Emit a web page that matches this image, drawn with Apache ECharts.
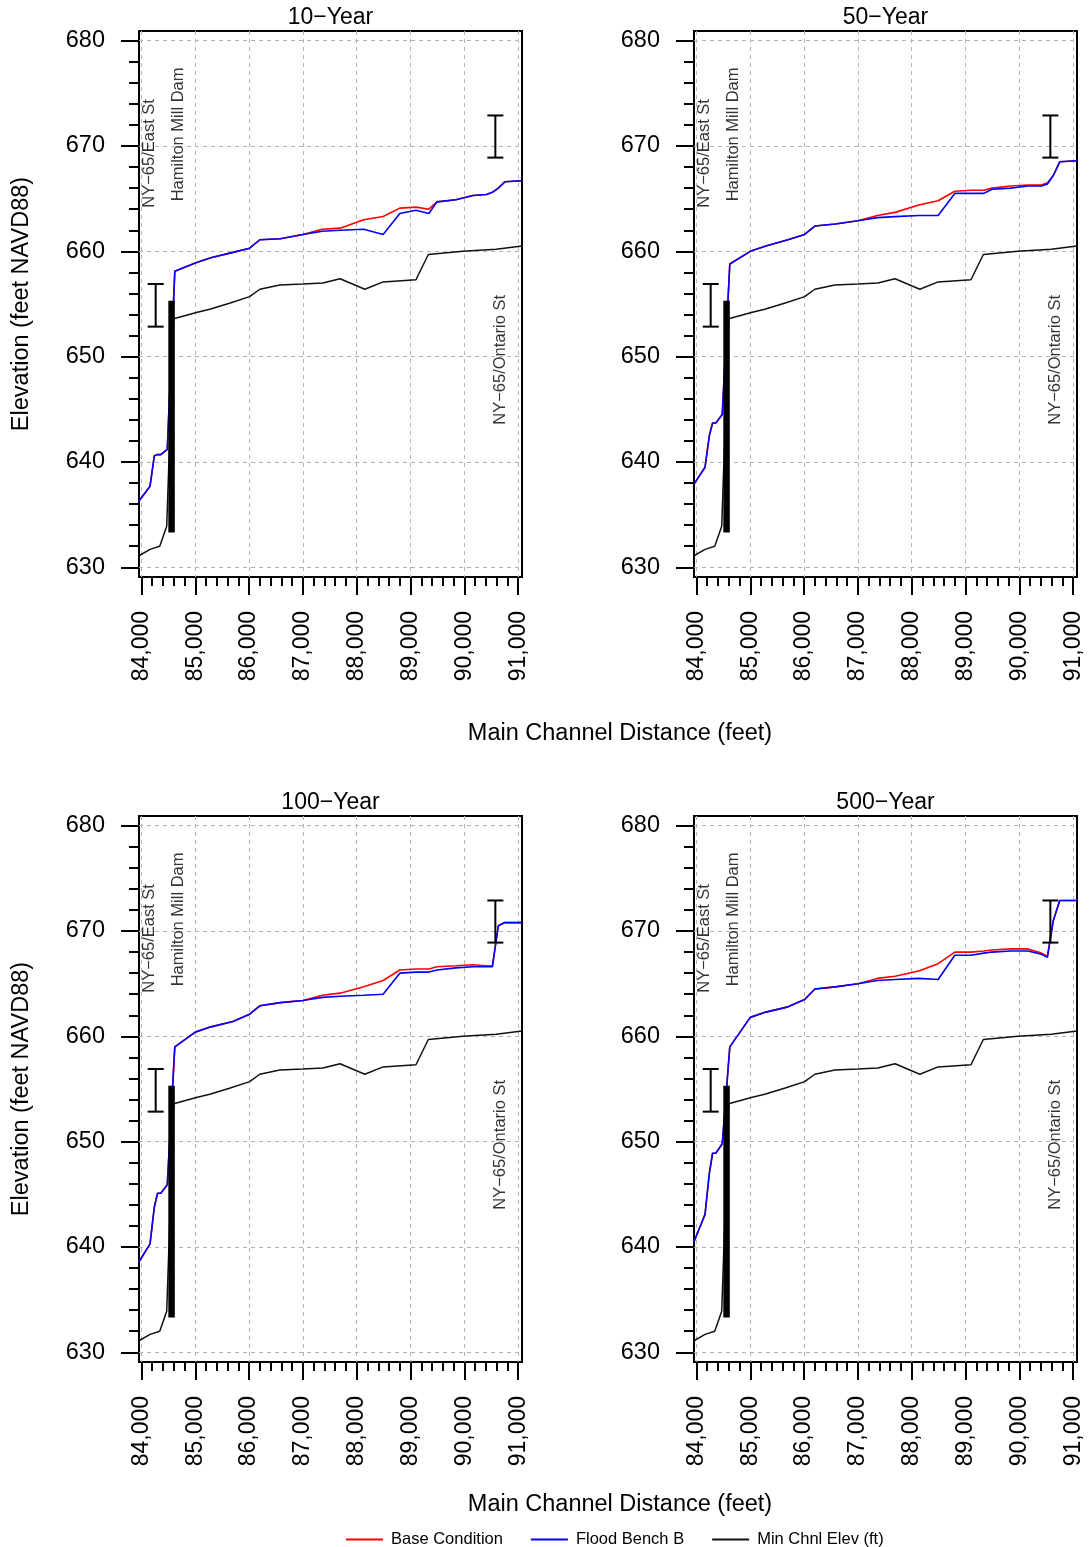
<!DOCTYPE html>
<html style="height: 100%">

<head>
    <meta charset="utf-8">
</head>

<body style="height: 100%; margin: 0; background: #fff">
    <div id="container" style="width: 1089px; height: 1547px"></div>
    <script type="text/javascript" src="https://cdn.jsdelivr.net/npm/echarts@6/dist/echarts.min.js"></script>
    <script type="text/javascript">
        // stations (main channel distance, ft) shared by the water surface profiles
        var stations = [83955, 84160, 84240, 84300, 84360, 84480, 84620, 85000, 85290, 85700,
            86010, 86200, 86580, 87000, 87360, 87690, 88130, 88490, 88800, 89100,
            89340, 89490, 89840, 90160, 90410, 90520, 90630, 90750, 91070];

        var base10 = [636.3, 637.7, 640.6, 640.7, 640.7, 641.2, 658.1, 658.9, 659.4, 659.9,
            660.3, 661.1, 661.2, 661.6, 662.1, 662.2, 663.0, 663.3, 664.1, 664.2,
            664.0, 664.7, 664.9, 665.3, 665.4, 665.6, 666.0, 666.6, 666.7];
        var bench10 = [636.3, 637.7, 640.6, 640.7, 640.7, 641.2, 658.1, 658.9, 659.4, 659.9,
            660.3, 661.1, 661.2, 661.6, 661.9, 662.0, 662.1, 661.6, 663.6, 663.9,
            663.6, 664.7, 664.9, 665.3, 665.4, 665.6, 666.0, 666.6, 666.7];

        var base50 = [637.9, 639.5, 642.5, 643.7, 643.7, 644.5, 658.8, 660.0, 660.5, 661.1,
            661.6, 662.4, 662.6, 662.9, 663.4, 663.7, 664.4, 664.8, 665.7, 665.8,
            665.8, 666.0, 666.2, 666.3, 666.3, 666.5, 667.2, 668.5, 668.6];
        var bench50 = [637.9, 639.5, 642.5, 643.7, 643.7, 644.5, 658.8, 660.0, 660.5, 661.1,
            661.6, 662.4, 662.6, 662.9, 663.2, 663.3, 663.4, 663.4, 665.5, 665.5,
            665.5, 665.9, 666.0, 666.2, 666.2, 666.4, 667.2, 668.5, 668.6];

        var base100 = [638.6, 640.3, 643.8, 645.1, 645.1, 645.9, 659.0, 660.4, 660.9, 661.4,
            662.1, 662.9, 663.2, 663.4, 663.9, 664.1, 664.7, 665.3, 666.3, 666.4,
            666.4, 666.6, 666.7, 666.8, 666.7, 666.7, 670.5, 670.8, 670.8];
        var bench100 = [638.6, 640.3, 643.8, 645.1, 645.1, 645.9, 659.0, 660.4, 660.9, 661.4,
            662.1, 662.9, 663.2, 663.4, 663.7, 663.8, 663.9, 664.0, 666.0, 666.1,
            666.1, 666.3, 666.5, 666.6, 666.6, 666.6, 670.5, 670.8, 670.8];

        var base500 = [640.5, 643.1, 647.0, 648.9, 648.9, 649.8, 659.0, 661.8, 662.3, 662.8,
            663.5, 664.5, 664.7, 665.0, 665.5, 665.7, 666.2, 666.9, 668.0, 668.0,
            668.1, 668.2, 668.3, 668.3, 667.9, 667.6, 671.0, 672.9, 672.9];
        var bench500 = [640.5, 643.1, 647.0, 648.9, 648.9, 649.8, 659.0, 661.8, 662.3, 662.8,
            663.5, 664.5, 664.7, 665.0, 665.3, 665.4, 665.5, 665.4, 667.7, 667.7,
            667.9, 668.0, 668.1, 668.1, 667.8, 667.5, 671.0, 672.9, 672.9];

        // minimum channel elevation
        var bedX = [83955, 84160, 84340, 84470, 84600, 85020, 85270, 85650, 86010, 86200,
            86570, 87000, 87370, 87690, 88150, 88490, 89100, 89330, 89970, 90590, 91070];
        var bedY = [631.1, 631.7, 632.0, 633.9, 653.6, 654.2, 654.5, 655.1, 655.7, 656.4,
            656.8, 656.9, 657.0, 657.4, 656.4, 657.1, 657.3, 659.7, 660.0, 660.2, 660.5];

        // dam and bridges
        var damX = 84560;
        var damY = [633.3, 655.3];
        var bridgeX = [84265, 90575];
        var bridgeLow = [652.85, 668.9];
        var bridgeHigh = [656.9, 672.9];

        var labelText = ['NY\u221265/East St', 'Hamilton Mill Dam', 'NY\u221265/Ontario St'];
        var labelX = [84152, 84680, 90666];
        var labelY = [669.3, 671.1, 649.7];

        var panelTitles = ['10\u2212Year', '50\u2212Year', '100\u2212Year', '500\u2212Year'];
        var panelBase = [base10, base50, base100, base500];
        var panelBench = [bench10, bench50, bench100, bench500];

        var xTicks = [84000, 85000, 86000, 87000, 88000, 89000, 90000, 91000];
        var yTicks = [630, 640, 650, 660, 670, 680];

        var dom = document.getElementById("container");
        var myChart = echarts.init(dom);
        var FONT = '"Liberation Sans", Arial, sans-serif';

        function comma(v) {
            return String(v).replace(/\B(?=(\d{3})+(?!\d))/g, ',');
        }
        function steps(a, b, s) {
            var r = [];
            for (var v = a; v <= b + 1e-9; v += s) r.push(v);
            return r;
        }
        var xMinor = steps(84000, 91000, 200);
        var yMinor = steps(630, 680, 2);

        var layout = [[139, 31], [694, 31], [139, 816], [694, 816]];
        var W = 383, H = 546;
        var xMin = 83955, xMax = 91070, yMin = 629.08, yMax = 680.92;

        var grids = [], xAxes = [], yAxes = [], series = [], graphics = [];

        panelTitles.forEach(function (title, i) {
            var left = layout[i][0], top = layout[i][1];
            grids.push({
                left: left, top: top, width: W, height: H,
                show: true, borderColor: '#000', borderWidth: 2,
                backgroundColor: 'transparent', outerBoundsMode: 'none'
            });
            // major x axis
            xAxes.push({
                type: 'value', gridIndex: i, position: 'bottom', min: xMin, max: xMax,
                axisLine: { show: false, onZero: false },
                axisTick: { show: true, length: 18, customValues: xTicks, lineStyle: { color: '#000', width: 2 } },
                axisLabel: {
                    customValues: xTicks, rotate: 90, margin: 34, formatter: comma,
                    fontSize: 23, color: '#000', fontFamily: FONT
                },
                splitLine: { show: true, lineStyle: { type: [4, 4], color: '#b4b4b4', width: 1 } }
            });
            // minor x ticks
            xAxes.push({
                type: 'value', gridIndex: i, position: 'bottom', min: xMin, max: xMax,
                axisLine: { show: false, onZero: false },
                axisTick: { show: true, length: 9, customValues: xMinor, lineStyle: { color: '#000', width: 2 } },
                axisLabel: { show: false },
                splitLine: { show: false }
            });
            yAxes.push({
                type: 'value', gridIndex: i, position: 'left', min: yMin, max: yMax,
                axisLine: { show: false, onZero: false },
                axisTick: { show: true, length: 18, customValues: yTicks, lineStyle: { color: '#000', width: 2 } },
                axisLabel: {
                    customValues: yTicks, margin: 34,
                    fontSize: 23.5, color: '#000', fontFamily: FONT
                },
                splitLine: { show: true, lineStyle: { type: [4, 4], color: '#b4b4b4', width: 1 } }
            });
            yAxes.push({
                type: 'value', gridIndex: i, position: 'left', min: yMin, max: yMax,
                axisLine: { show: false, onZero: false },
                axisTick: { show: true, length: 10, customValues: yMinor, lineStyle: { color: '#000', width: 2 } },
                axisLabel: { show: false },
                splitLine: { show: false }
            });

            var xi = 2 * i, yi = 2 * i;
            series.push({
                name: 'Base Condition', type: 'line', xAxisIndex: xi, yAxisIndex: yi,
                symbol: 'none', z: 2, lineStyle: { color: '#ff0000', width: 1.6 },
                itemStyle: { color: '#ff0000' },
                data: stations.map(function (x, k) { return [x, panelBase[i][k]]; })
            });
            series.push({
                name: 'Flood Bench B', type: 'line', xAxisIndex: xi, yAxisIndex: yi,
                symbol: 'none', z: 3, lineStyle: { color: '#0000ff', width: 1.6 },
                itemStyle: { color: '#0000ff' },
                data: stations.map(function (x, k) { return [x, panelBench[i][k]]; })
            });
            series.push({
                name: 'Min Chnl Elev (ft)', type: 'line', xAxisIndex: xi, yAxisIndex: yi,
                symbol: 'none', z: 3, lineStyle: { color: '#111', width: 1.5 },
                itemStyle: { color: '#111' },
                data: bedX.map(function (x, k) { return [x, bedY[k]]; })
            });
            series.push({
                name: 'dam', type: 'line', xAxisIndex: xi, yAxisIndex: yi, silent: true,
                symbol: 'none', z: 4, lineStyle: { color: '#000', width: 6.5, cap: 'butt' },
                data: damY.map(function (y) { return [damX, y]; })
            });
            series.push({
                name: 'bridge', type: 'custom', xAxisIndex: xi, yAxisIndex: yi, silent: true, z: 4,
                encode: { x: 0, y: [1, 2] },
                renderItem: function (params, api) {
                    var lo = api.coord([api.value(0), api.value(1)]);
                    var hi = api.coord([api.value(0), api.value(2)]);
                    var w = 8;
                    var st = { stroke: '#000', lineWidth: 2 };
                    return {
                        type: 'group', children: [
                            { type: 'line', shape: { x1: lo[0], y1: lo[1], x2: hi[0], y2: hi[1] }, style: st },
                            { type: 'line', shape: { x1: lo[0] - w, y1: lo[1], x2: lo[0] + w, y2: lo[1] }, style: st },
                            { type: 'line', shape: { x1: hi[0] - w, y1: hi[1], x2: hi[0] + w, y2: hi[1] }, style: st }
                        ]
                    };
                },
                data: bridgeX.map(function (x, k) { return [x, bridgeLow[k], bridgeHigh[k]]; })
            });
            series.push({
                name: 'labels', type: 'scatter', xAxisIndex: xi, yAxisIndex: yi, silent: true, z: 5,
                symbolSize: 1, itemStyle: { color: 'rgba(0,0,0,0)' },
                label: {
                    show: true, position: 'inside', rotate: 90, color: '#000',
                    fontSize: 16.5, fontFamily: FONT,
                    formatter: function (p) { return labelText[p.dataIndex]; }
                },
                data: labelX.map(function (x, k) { return [x, labelY[k]]; })
            });

            graphics.push({
                type: 'text', x: left + W / 2, y: top - 13,
                style: { text: title, fontSize: 23, fontFamily: FONT, fill: '#000', align: 'center', verticalAlign: 'middle' }
            });
        });

        // axis titles
        [304, 1089].forEach(function (cy) {
            graphics.push({
                type: 'text', x: 22, y: cy, rotation: Math.PI / 2,
                style: { text: 'Elevation (feet NAVD88)', fontSize: 23.5, fontFamily: FONT, fill: '#000', align: 'center', verticalAlign: 'middle' }
            });
        });
        [734, 1505].forEach(function (cy) {
            graphics.push({
                type: 'text', x: 620, y: cy,
                style: { text: 'Main Channel Distance (feet)', fontSize: 23.5, fontFamily: FONT, fill: '#000', align: 'center', verticalAlign: 'middle' }
            });
        });

        myChart.setOption({
            animation: false,
            backgroundColor: '#fff',
            grid: grids,
            xAxis: xAxes,
            yAxis: yAxes,
            legend: {
                data: ['Base Condition', 'Flood Bench B', 'Min Chnl Elev (ft)'],
                left: 341, top: 1526,
                icon: 'rect', itemWidth: 37, itemHeight: 2, itemGap: 28,
                textStyle: { fontSize: 16.5, fontFamily: FONT, color: '#000', padding: [0, 0, 0, 3] }
            },
            graphic: graphics,
            series: series
        });
    </script>
</body>

</html>
